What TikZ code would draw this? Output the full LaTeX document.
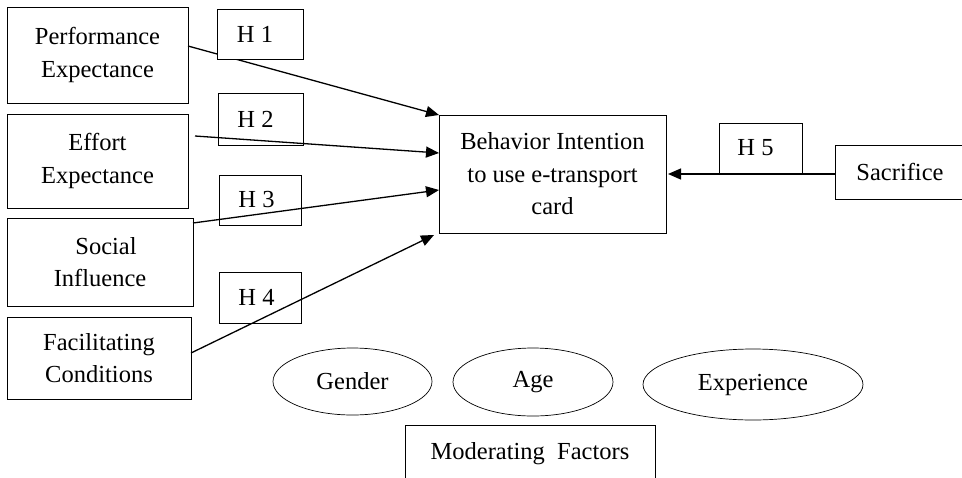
\documentclass[tikz,border=0pt]{standalone}
\usepackage{fontspec}
\setmainfont{Liberation Serif}
\usetikzlibrary{arrows.meta,shapes.geometric}
\begin{document}
\begin{tikzpicture}[x=1pt,y=-1pt,
  every node/.style={font=\fontsize{24.5}{32.5}\selectfont, inner sep=0pt, outer sep=0pt},
  box/.style={draw, line width=0.8pt, rectangle, align=center},
  hbox/.style={draw, line width=0.8pt, rectangle, minimum width=#1, minimum height=50pt},
  oval/.style={draw, line width=0.7pt, ellipse},
  arr/.style={line width=1.3pt, -{Triangle[length=13pt,width=11pt]}}
]
\useasboundingbox (0,0) rectangle (962,477);
\clip (0,0) rectangle (962,477);

% left constructs
\node[box, minimum width=181pt, minimum height=96pt] (pe) at (97.5,55) {Performance\\Expectance};
\node[box, minimum width=181pt, minimum height=94pt] (ee) at (97.5,161) {Effort\\Expectance};
\node[box, minimum width=186pt, minimum height=88pt] (si) at (100,262) {\hspace*{12pt}Social\\Influence};
\node[box, minimum width=184pt, minimum height=82pt] (fc) at (99,358) {Facilitating\\Conditions};

% hypothesis labels (H1 is drawn after the connectors, it hides its line)
\node[hbox=85pt, minimum height=52pt] (h2) at (260.5,119) {H 2\hspace*{10pt}};
\node[hbox=82pt] (h3) at (260,200) {H 3\hspace*{7pt}};
\node[hbox=82pt, minimum height=51pt] (h4) at (260,297.5) {H 4\hspace*{7pt}};
\node[hbox=83pt] (h5) at (760.5,148) {H 5\hspace*{10pt}};

% target and sacrifice
\node[box, minimum width=227pt, minimum height=118pt] (bi) at (552.5,174) {Behavior Intention\\to use e-transport\\card};
\node[box, minimum width=130pt, minimum height=54pt] (sa) at (900,172) {Sacrifice};

% moderators
\node[oval, minimum width=159pt, minimum height=67pt] (ge) at (352.5,381.5) {Gender};
\node[oval, minimum width=160pt, minimum height=68pt] (ag) at (533,382) {Age};
\node[oval, minimum width=220pt, minimum height=71pt] (ex) at (753,384.5) {Experience};
\node[box, minimum width=250pt, minimum height=58pt] (mf) at (530,454) {Moderating\ \ Factors};

% connectors
\draw[arr] ([yshift=9pt]pe.east) -- (bi.north west);
\draw[arr] ([xshift=7pt,yshift=25pt]ee.east) -- ([yshift=21pt]bi.west);
\draw[arr] ([yshift=-5pt]si.north east) -- ([yshift=-16pt]bi.west);
\draw[arr] ([yshift=5pt]fc.east) -- ([xshift=-5pt,yshift=-2pt]bi.south west);
\coordinate (h5s) at ([yshift=-2pt]sa.west);
\draw[arr] (h5s) -- ([xshift=2pt]h5s -| bi.east);

\node[hbox=86pt, fill=white] (h1) at (260,34) {H 1\hspace*{10pt}};
\end{tikzpicture}
\end{document}
